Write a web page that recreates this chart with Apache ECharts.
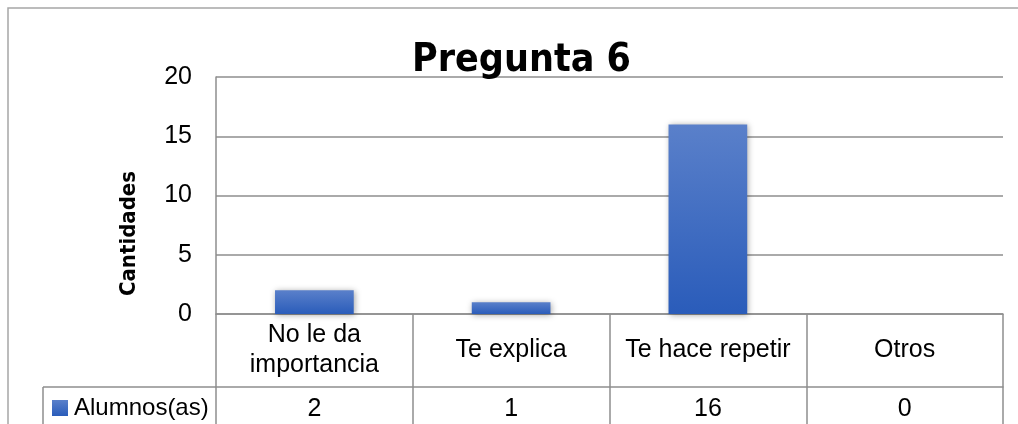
<!DOCTYPE html>
<html>
<head>
<meta charset="utf-8">
<script src="https://cdn.jsdelivr.net/npm/echarts@6/dist/echarts.min.js"></script>
<style>
  html, body { margin: 0; padding: 0; background: #fff; }
  #chart { width: 1018px; height: 424px; }
</style>
</head>
<body>
<div id="chart"></div>
<script>
// Pregunta 6 – columnas con tabla de datos (estilo Excel)
const categories = ['No le da\nimportancia', 'Te explica', 'Te hace repetir', 'Otros']
const alumnos = [2, 1, 16, 0]
const seriesName = 'Alumnos(as)'

const FONT = 'Liberation Sans, Arial, sans-serif'
const LINE = '#8e8e8e'

const chart = echarts.init(document.getElementById('chart'))

chart.setOption({
  animation: false,
  title: {
    text: 'Pregunta 6',
    left: 407,
    top: 36,
    textStyle: { fontFamily: 'DejaVu Sans Condensed', fontWeight: 'bold', fontSize: 39, color: '#000' }
  },
  legend: {
    data: [seriesName],
    left: 52,
    top: 396,
    icon: 'rect',
    itemWidth: 16,
    itemHeight: 16,
    itemGap: 0,
    padding: 0,
    textStyle: { fontFamily: FONT, fontSize: 24, color: '#000', padding: [0, 0, 0, 1] }
  },
  grid: { left: 216, right: 15, top: 77, bottom: 110 },
  xAxis: [
    {
      type: 'category',
      data: categories,
      position: 'bottom',
      axisLine: { show: true, lineStyle: { color: LINE, width: 1.5 } },
      axisTick: { show: true, length: 120, lineStyle: { color: LINE, width: 1.5 } },
      axisLabel: {
        interval: 0, margin: 36, verticalAlign: 'middle',
        fontFamily: FONT, fontSize: 25, lineHeight: 30, color: '#000'
      }
    },
    {
      type: 'category',
      data: alumnos.map(String),
      position: 'bottom',
      offset: 73,
      axisLine: { show: true, lineStyle: { color: LINE, width: 1.5 } },
      axisTick: { show: false },
      axisLabel: {
        interval: 0, margin: 22, verticalAlign: 'middle',
        fontFamily: FONT, fontSize: 25, color: '#000'
      }
    }
  ],
  yAxis: {
    type: 'value',
    min: 0,
    max: 20,
    interval: 5,
    name: 'Cantidades',
    nameLocation: 'middle',
    nameRotate: 90,
    nameGap: 76,
    nameTextStyle: {
      fontFamily: 'DejaVu Sans Condensed', fontWeight: 'bold', fontSize: 22, color: '#000',
      padding: [0, 76, 0, 0]
    },
    axisLine: { show: true, lineStyle: { color: LINE, width: 1.5 } },
    axisTick: { show: false },
    axisLabel: { margin: 24, fontFamily: FONT, fontSize: 25, color: '#000' },
    splitLine: { lineStyle: { color: LINE, width: 1.5 } }
  },
  series: [{
    name: seriesName,
    type: 'bar',
    data: alumnos,
    barWidth: '40%',
    itemStyle: {
      color: new echarts.graphic.LinearGradient(0, 0, 0, 1, [
        { offset: 0, color: '#5a80ca' },
        { offset: 1, color: '#2a5cba' }
      ]),
      shadowBlur: 6,
      shadowColor: 'rgba(0,0,0,0.35)',
      shadowOffsetX: 1,
      shadowOffsetY: 1
    }
  }],
  graphic: [
    // marco exterior del gráfico
    { type: 'rect', shape: { x: 8, y: 8, width: 1030, height: 440 }, style: { fill: null, stroke: '#a6a6a6', lineWidth: 1.5 }, z: -1 },
    // celda de leyenda de la tabla
    { type: 'line', shape: { x1: 43, y1: 387, x2: 216, y2: 387 }, style: { stroke: LINE, lineWidth: 1.5 } },
    { type: 'line', shape: { x1: 43, y1: 387, x2: 43, y2: 430 }, style: { stroke: LINE, lineWidth: 1.5 } }
  ]
})
</script>
</body>
</html>
